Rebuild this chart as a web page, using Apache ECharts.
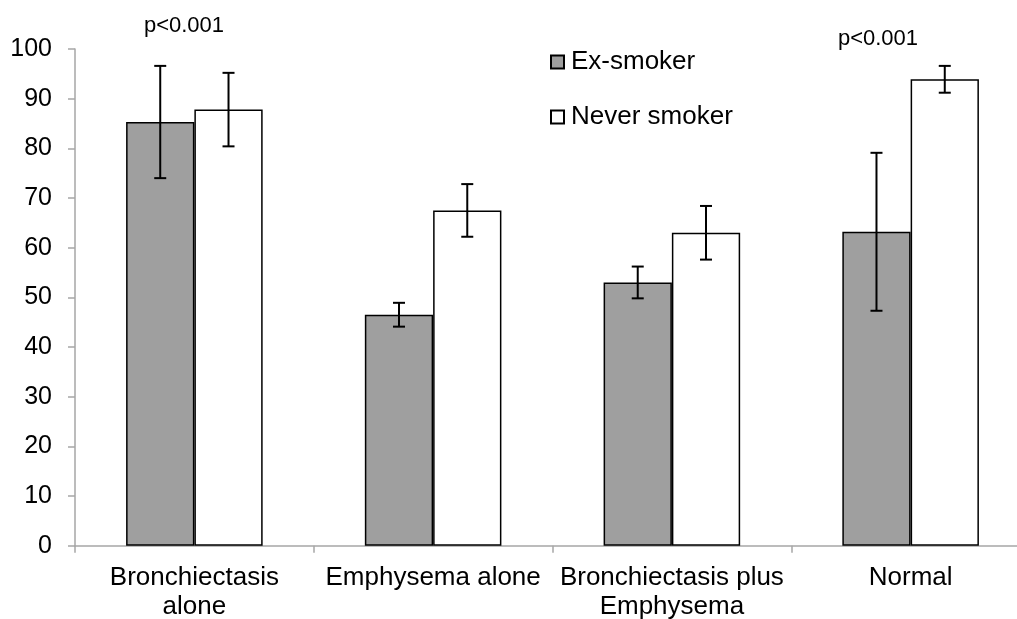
<!DOCTYPE html>
<html>
<head>
<meta charset="utf-8">
<script src="https://cdn.jsdelivr.net/npm/echarts@6/dist/echarts.min.js"></script>
<style>
html,body{margin:0;padding:0;background:#fff;}
#chart{width:1017px;height:619px;}
</style>
</head>
<body>
<div id="chart"></div>
<script>
const categories = ['Bronchiectasis\nalone', 'Emphysema alone', 'Bronchiectasis plus\nEmphysema', 'Normal'];
const seriesNames = ['Ex-smoker', 'Never smoker'];
const exSmoker = [85.3, 46.5, 53.0, 63.2];
const exSmokerErr = [11.3, 2.4, 3.2, 15.9];
const neverSmoker = [87.8, 67.5, 63.0, 93.9];
const neverSmokerErr = [7.4, 5.3, 5.4, 2.7];
const yTicks = { min: 0, max: 100, interval: 10 };
const annotations = [
  { text: 'p<0.001', x: 184, y: 26 },
  { text: 'p<0.001', x: 878, y: 39 }
];

const FONT = '"Liberation Sans", Arial, Helvetica, sans-serif';
const GAP = 0.428;
const AXIS_GRAY = '#a6a6a6';

function errSeries(values, errs, side, name) {
  return {
    type: 'custom',
    name: name + ' error',
    z: 10,
    silent: true,
    data: values.map((v, i) => [i, v, errs[i]]),
    encode: { x: 0, y: 1 },
    renderItem: function (params, api) {
      const idx = api.value(0);
      const v = api.value(1);
      const e = api.value(2);
      const band = api.size([1, 0])[0];
      const bw = band * (1 - GAP) / 2;
      const top = api.coord([idx, v + e]);
      const bot = api.coord([idx, v - e]);
      const x = top[0] + side * bw / 2;
      const cap = 6;
      const style = { stroke: '#000', lineWidth: 2, fill: null };
      return {
        type: 'group',
        children: [
          { type: 'line', shape: { x1: x, y1: top[1], x2: x, y2: bot[1] }, style: style },
          { type: 'line', shape: { x1: x - cap, y1: top[1], x2: x + cap, y2: top[1] }, style: style },
          { type: 'line', shape: { x1: x - cap, y1: bot[1], x2: x + cap, y2: bot[1] }, style: style }
        ]
      };
    }
  };
}

const chart = echarts.init(document.getElementById('chart'), null, { renderer: 'canvas' });
chart.setOption({
  animation: false,
  backgroundColor: '#fff',
  textStyle: { fontFamily: FONT },
  grid: { left: 75, top: 49, width: 955, height: 496.7, containLabel: false, outerBoundsMode: 'none' },
  legend: {
    data: seriesNames,
    orient: 'vertical',
    left: 545,
    top: 44,
    itemWidth: 13,
    itemHeight: 13,
    itemGap: 29,
    icon: 'rect',
    textStyle: { fontSize: 26, color: '#000', fontFamily: FONT, lineHeight: 24, padding: [0, 0, 0, 2] }
  },
  xAxis: {
    type: 'category',
    data: categories,
    axisLine: { show: true, lineStyle: { color: AXIS_GRAY, width: 1.5 } },
    axisTick: { show: true, alignWithLabel: false, length: 7, lineStyle: { color: AXIS_GRAY, width: 1.5 } },
    axisLabel: { color: '#000', fontSize: 26, lineHeight: 29, margin: 18, fontFamily: FONT, interval: 0 }
  },
  yAxis: {
    type: 'value',
    min: yTicks.min,
    max: yTicks.max,
    interval: yTicks.interval,
    splitLine: { show: false },
    axisLine: { show: true, lineStyle: { color: AXIS_GRAY, width: 1.5 } },
    axisTick: { show: true, length: 7, lineStyle: { color: AXIS_GRAY, width: 1.5 } },
    axisLabel: { color: '#000', fontSize: 25, margin: 23, fontFamily: FONT }
  },
  series: [
    {
      type: 'bar',
      name: seriesNames[0],
      data: exSmoker,
      barGap: '0%',
      barCategoryGap: (GAP * 100) + '%',
      itemStyle: { color: '#9f9f9f', borderColor: '#000', borderWidth: 1.5 }
    },
    {
      type: 'bar',
      name: seriesNames[1],
      data: neverSmoker,
      barGap: '0%',
      barCategoryGap: (GAP * 100) + '%',
      itemStyle: { color: '#fff', borderColor: '#000', borderWidth: 1.5 }
    },
    errSeries(exSmoker, exSmokerErr, -1, seriesNames[0]),
    errSeries(neverSmoker, neverSmokerErr, 1, seriesNames[1])
  ],
  graphic: annotations.map(a => ({
    type: 'text',
    x: a.x,
    y: a.y,
    style: { text: a.text, fontSize: 22, fontFamily: FONT, fill: '#000', align: 'center', verticalAlign: 'middle' }
  }))
});
</script>
</body>
</html>
